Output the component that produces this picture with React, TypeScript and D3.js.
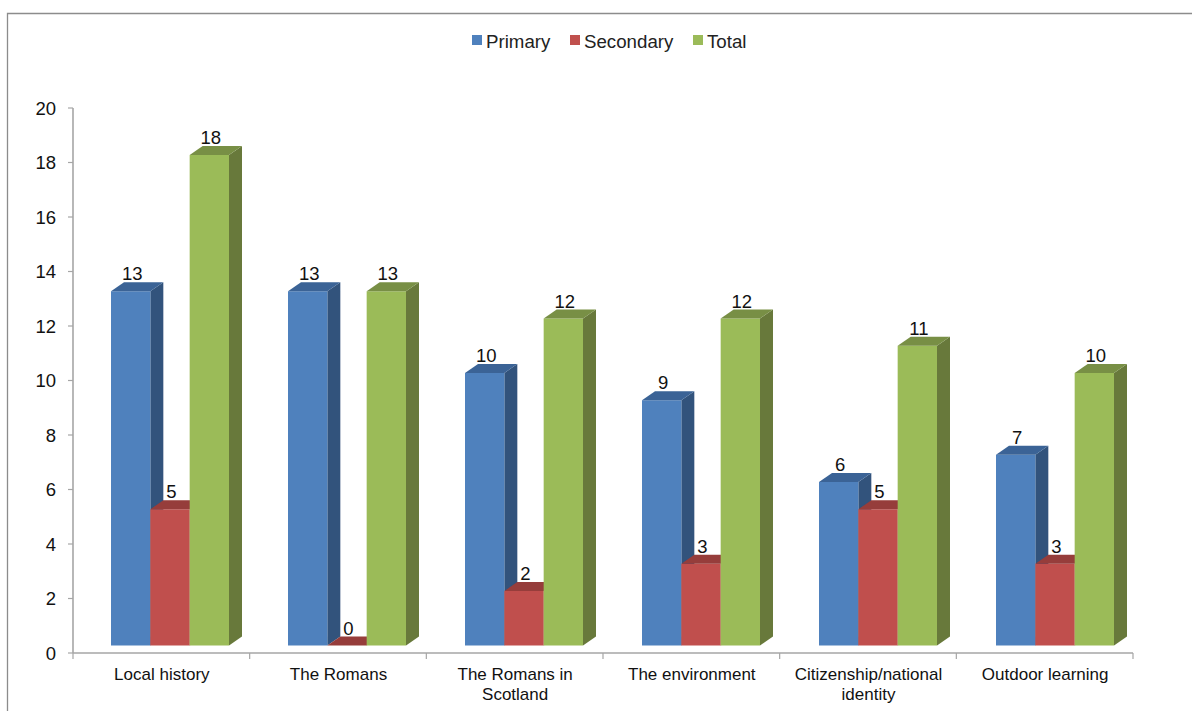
import React from "react";
import * as d3 from "d3";

const categories = [
  ["Local history"],
  ["The Romans"],
  ["The Romans in", "Scotland"],
  ["The environment"],
  ["Citizenship/national", "identity"],
  ["Outdoor learning"],
];
const seriesNames = ["Primary", "Secondary", "Total"];
const primary = [13, 13, 10, 9, 6, 7];
const secondary = [5, 0, 2, 3, 5, 3];
const total = [18, 13, 12, 12, 11, 10];
const seriesValues = [primary, secondary, total];
const yTicks = d3.range(0, 21, 2);

const frontColors = ["#4f81bd", "#c0504d", "#9bbb59"];
const sideColors = ["#30527c", "#8a3a38", "#67793a"];
const topColors = ["#3a6396", "#963d3b", "#788f45"];

const width = 1192;
const height = 711;
const depthX = 13;
const depthY = 9;
const baseLift = 7.5;
const font = "'Liberation Sans', Arial, sans-serif";
const axisColor = "#a6a6a6";

export default function App() {
  const yScale = d3.scaleLinear().domain([0, 20]).range([653, 108]);
  const xScale = d3
    .scaleBand<number>()
    .domain(d3.range(categories.length))
    .range([73, 1133]);
  const barGroups = d3
    .scaleBand<number>()
    .domain(d3.range(categories.length))
    .range([111, 1173]);
  const seriesScale = d3
    .scaleBand<number>()
    .domain(d3.range(seriesNames.length))
    .range([0, 118]);
  const barWidth = seriesScale.bandwidth();
  const legendX = [472, 570, 693];

  return (
    <svg
      width={width}
      height={height}
      style={{ position: "absolute", left: 0, top: 0, fontFamily: font }}
    >
      <defs>
        <filter id="soft" x="-5%" y="-5%" width="110%" height="110%">
          <feGaussianBlur stdDeviation="0.35" />
        </filter>
      </defs>
      <path
        d={`M1192,13.5H7.5V${height}`}
        fill="none"
        stroke="#8c8c8c"
        strokeWidth="1.3"
      />

      {seriesNames.map((name, i) => (
        <g key={name}>
          <rect x={legendX[i]} y={35} width={10} height={10} fill={frontColors[i]} />
          <text x={legendX[i] + 14} y={47.5} fontSize="18.7" fill="#222">
            {name}
          </text>
        </g>
      ))}

      <g stroke={axisColor} fill="none">
        <line x1={73} x2={73} y1={yScale(20)} y2={yScale(0)} strokeWidth="1.6" />
        <line x1={73} x2={1133} y1={yScale(0)} y2={yScale(0)} strokeWidth="1.6" />
        {yTicks.map((t) => (
          <line key={t} x1={68} x2={73} y1={yScale(t)} y2={yScale(t)} strokeWidth="1.2" />
        ))}
        {d3.range(categories.length + 1).map((i) => {
          const x = 73 + i * xScale.bandwidth();
          return <line key={i} x1={x} x2={x} y1={653} y2={659} strokeWidth="1.2" />;
        })}
      </g>

      {yTicks.map((t) => (
        <text key={t} x={56} y={yScale(t) + 6.5} fontSize="18.5" textAnchor="end" fill="#111">
          {t}
        </text>
      ))}

      {categories.map((lines, c) => {
        const cx = (xScale(c) ?? 0) + xScale.bandwidth() / 2 + 0.5;
        return (
          <text key={c} y={680} fontSize="17" textAnchor="middle" fill="#111">
            {lines.map((line, l) => (
              <tspan key={l} x={cx} dy={l === 0 ? 0 : 20}>
                {line}
              </tspan>
            ))}
          </text>
        );
      })}

      <g filter="url(#soft)">
        {categories.map((_, c) =>
          seriesNames.map((_, s) => {
            const value = seriesValues[s][c];
            const x0 = (barGroups(c) ?? 0) + (seriesScale(s) ?? 0);
            const x1 = x0 + barWidth;
            const yTop = yScale(value) - baseLift;
            const yBase = yScale(0) - baseLift;
            return (
              <g key={s}>
                <path
                  d={`M${x1},${yTop}L${x1 + depthX},${yTop - depthY}V${yBase - depthY}L${x1},${yBase}Z`}
                  fill={sideColors[s]}
                />
                <rect x={x0} y={yTop} width={barWidth} height={yBase - yTop} fill={frontColors[s]} />
                <path
                  d={`M${x0},${yTop}L${x0 + depthX},${yTop - depthY}H${x1 + depthX}L${x1},${yTop}Z`}
                  fill={topColors[s]}
                />
              </g>
            );
          }),
        )}
      </g>

      {categories.map((_, c) =>
        seriesNames.map((_, s) => {
          const value = seriesValues[s][c];
          const x0 = (barGroups(c) ?? 0) + (seriesScale(s) ?? 0);
          return (
            <text
              key={s}
              x={x0 + barWidth / 2 + 1.5}
              y={yScale(value) - baseLift - 11}
              fontSize="18.5"
              textAnchor="middle"
              fill="#111"
            >
              {value}
            </text>
          );
        }),
      )}
    </svg>
  );
}
